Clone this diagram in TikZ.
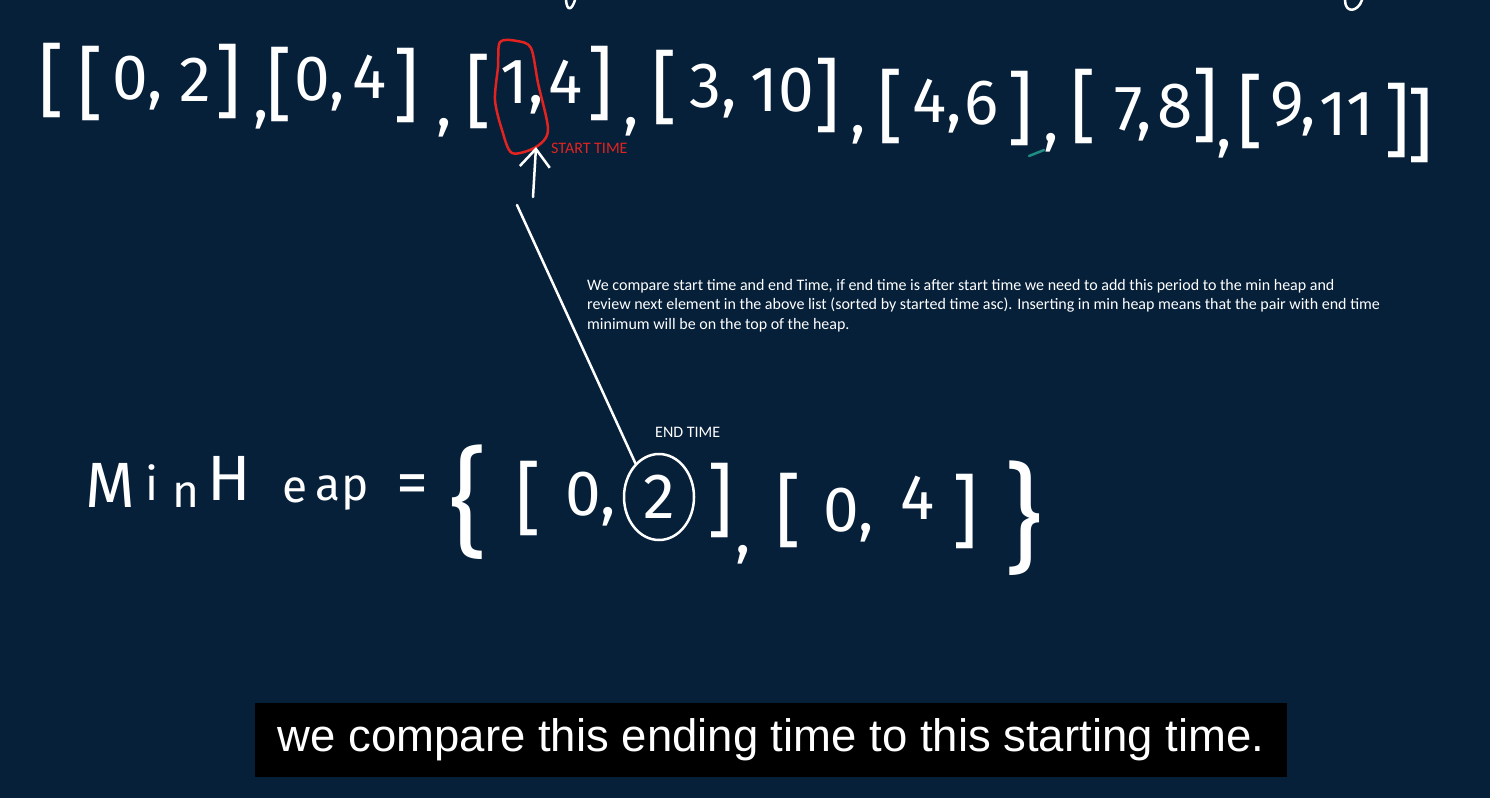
\documentclass[tikz,border=0pt]{standalone}
\usepackage{fontspec}
\usepackage{xcolor}
\usepackage{tikz}
\usetikzlibrary{arrows.meta,shapes.geometric}
\newfontfamily\handfont{Fira Sans}
\newfontfamily\notefont{Carlito}
\newfontfamily\capfont{Liberation Sans}
\definecolor{boardbg}{HTML}{06203A}
\definecolor{penred}{HTML}{E2231F}
\definecolor{penteal}{HTML}{1E8C82}

\begin{document}
\begin{tikzpicture}[x=1pt,y=-1pt,
  hand/.style={text=white,inner sep=0pt,font=\handfont\fontsize{64}{64}\selectfont},
  handsm/.style={hand,font=\handfont\fontsize{46}{46}\selectfont},
  brk/.style={hand,font=\handfont\fontsize{80}{80}\selectfont},
  brace/.style={hand,font=\handfont\fontsize{118}{118}\selectfont},
  pen/.style={white,line width=2.5pt,line cap=round,line join=round},
  note/.style={text=white,inner sep=0pt,align=left,font=\notefont\fontsize{16}{19.5}\selectfont},
  tag/.style={inner sep=0pt,font=\notefont\fontsize{16}{16}\selectfont}]
\fill[boardbg](0,0)rectangle(1490,798);
\useasboundingbox(0,0)rectangle(1490,798);
% list of intervals
\foreach \x/\y/\t [count=\i] in {51/80/[,90/83/[,228/81/],279/84/[,406/85/],478/91/[,600/83/],664/87/[,827/95/],890/106/[,1020/108/],1083/106/[,1205/105/],1250/111/[,1397/120/],1420/125/]}
  \node[brk](lb\i)at(\x,\y){\t};
\foreach \x/\y/\t [count=\i] in {138/83/{0,},195/80/2,320/84/{0,},370/77/4,522/87/{1,},566/82/4,713/91/{3,},782/90/10,937/106/{4,},982/103/6,1133/114/{7,},1175/106/8,1293/109/{9,},1347/114/11}
  \node[hand](ld\i)at(\x,\y){\t};
\foreach \x/\y [count=\i] in {261/120,444/128,631/127,858/135,1051/143,1224/149}
  \node[hand](lc\i)at(\x,\y){,};
\draw[pen](566,0)..controls(567,12)and(572,10)..(575,0);
\draw[pen](1345,0)..controls(1345,14)and(1358,12)..(1362,0);
\draw[penteal,line width=2.5pt,line cap=round](1029,156)--(1044,150);
% start time mark
\draw[penred,line width=2.5pt,line join=round]plot[smooth cycle]coordinates{(500,42)(517,41)(531,48)(538,83)(548,130)(536,147)(512,153)(502,130)(495,100)(498,67)};
\node[tag,text=penred,anchor=west](starttag)at(551,148){START TIME};
\coordinate(arrfoot)at(533,197);
\coordinate(arrtip)at(536,147);
\draw[pen,-{Straight Barb[length=18pt,width=30pt]}](arrfoot)--(arrtip);
% explanation
\node[note,anchor=north west](explain)at(587,279){We compare start time and end Time, if end time is after start time we need to add this period to the min heap and\\review next element in the above list (sorted by started time asc). Inserting in min heap means that the pair with end time\\minimum will be on the top of the heap.};
% min heap
\foreach \x/\y/\t [count=\i] in {110/507/M,229/500/H}
  \node[hand,anchor=base](hc\i)at(\x,\y){\t};
\foreach \x/\y/\t [count=\i] in {152/500/i,186/507/n,295/502/e,328/500/a,355/500/p}
  \node[handsm,anchor=base](hs\i)at(\x,\y){\t};
\node[hand](eq)at(412,490){=};
\node[brace](hopen)at(468,502){\{};
\node[brace](hclose)at(1023,518){\}};
\foreach \x/\y/\t [count=\i] in {528/498/[,720/500/],788/510/[,965/511/]}
  \node[brk](hb\i)at(\x,\y){\t};
\foreach \x/\y/\t [count=\i] in {591/499/{0,},849/515/{0,},918/498/4}
  \node[hand](hd\i)at(\x,\y){\t};
\node[hand](hcm)at(743,555){,};
\node[hand,draw=white,line width=2.5pt,ellipse,minimum width=70pt,minimum height=86pt](two)at(659,497){2};
\node[tag,text=white,anchor=west](endtag)at(655,432){END TIME};
\coordinate(tail)at(517,205);
\draw[pen](two.125)--(tail);
% caption
\node[fill=black,minimum width=1032pt,minimum height=74pt,inner sep=0pt,text=white,font=\capfont\fontsize{45.5}{45.5}\selectfont](caption)at(771,740){\raisebox{-3pt}{we compare this ending time to this starting time.}};
\end{tikzpicture}
\end{document}
